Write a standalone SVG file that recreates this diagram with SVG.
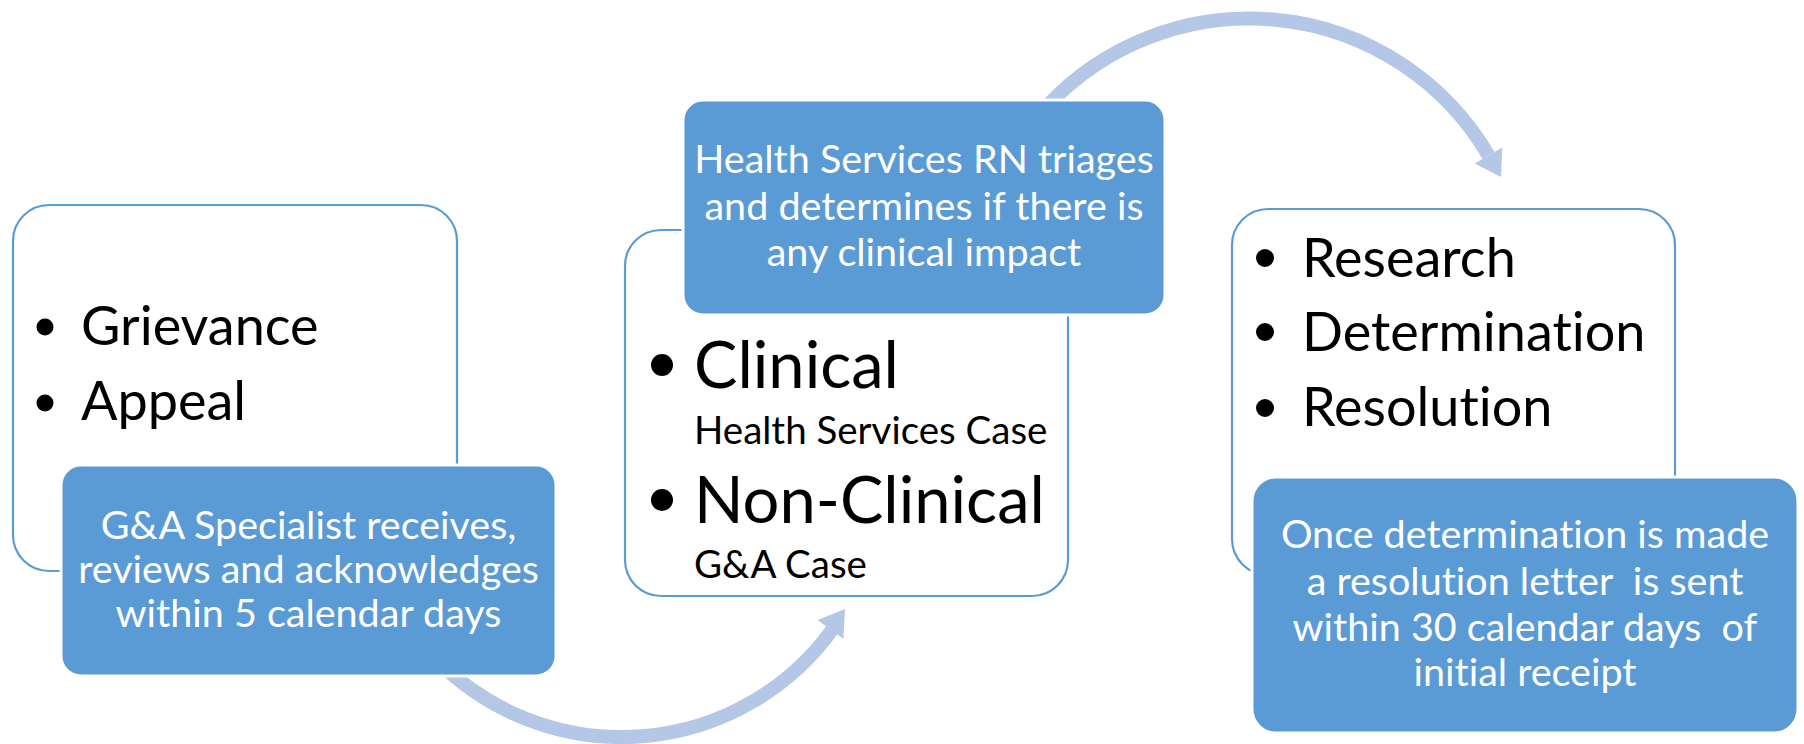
<svg xmlns="http://www.w3.org/2000/svg" width="1804" height="744" viewBox="0 0 1804 744">
  <style>
    .frame { fill: #FFFFFF; stroke: #5B9BD5; stroke-width: 2.2; }
    .card { fill: #5B9BD5; stroke: #FFFFFF; stroke-width: 3; }
    .flow { fill: none; stroke: #B4C7E7; stroke-width: 14; }
    .head { fill: #B4C7E7; }
    .bullet { fill: #000000; }
    text { font-variant-ligatures: none; font-feature-settings: "liga" 0, "clig" 0; }
    .item { font-family: Lato, "Liberation Sans", sans-serif; fill: #000000; }
    .note { font-family: Lato, "Liberation Sans", sans-serif; fill: #FFFFFF; text-anchor: middle; white-space: pre; font-size: 39.5px; }
  </style>

  <rect width="1804" height="744" fill="#FFFFFF"/>

  <!-- curved connectors between the stages -->
  <g id="connectors">
    <path class="flow" d="M 437.6 660.8 A 260.2 260.2 0 0 0 832 630"/>
    <polygon class="head" points="845,609 817.6,620.1 843.4,638.9"/>
    <path class="flow" d="M 1037 117.5 A 277.2 277.2 0 0 1 1488.5 155.5"/>
    <polygon class="head" points="1501,177 1474.7,163.6 1502.3,147.4"/>
  </g>

  <!-- stage 1: intake -->
  <g id="stage-intake">
    <rect class="frame" x="13" y="205" width="444" height="366" rx="36" ry="36"/>
    <circle class="bullet" cx="45" cy="327" r="8.5"/>
    <circle class="bullet" cx="45" cy="403" r="8.5"/>
    <text class="item" x="81" y="345" font-size="54">Grievance</text>
    <text class="item" x="81" y="420" font-size="54">Appeal</text>
  </g>
  <g id="stage-intake-note">
    <rect class="card" x="61" y="465" width="495" height="211" rx="20" ry="20"/>
    <text class="note" x="308.5" y="539">G&amp;A Specialist receives,</text>
    <text class="note" x="308.5" y="583">reviews and acknowledges</text>
    <text class="note" x="308.5" y="627">within 5 calendar days</text>
  </g>

  <!-- stage 2: triage -->
  <g id="stage-triage">
    <rect class="frame" x="625" y="230" width="443" height="366" rx="36" ry="36"/>
    <circle class="bullet" cx="662" cy="365" r="11"/>
    <circle class="bullet" cx="662" cy="500" r="11"/>
    <text class="item" x="694" y="388" font-size="65">Clinical</text>
    <text class="item" x="694" y="444" font-size="38.5">Health Services Case</text>
    <text class="item" x="694" y="523" font-size="65">Non-Clinical</text>
    <text class="item" x="694" y="578" font-size="38.5">G&amp;A Case</text>
  </g>
  <g id="stage-triage-note">
    <rect class="card" x="683" y="100" width="482" height="215" rx="20" ry="20"/>
    <text class="note" x="924" y="173">Health Services RN triages</text>
    <text class="note" x="924" y="220">and determines if there is</text>
    <text class="note" x="924" y="266">any clinical impact</text>
  </g>

  <!-- stage 3: resolution -->
  <g id="stage-resolution">
    <rect class="frame" x="1232" y="209" width="443" height="366" rx="36" ry="36"/>
    <circle class="bullet" cx="1265" cy="258" r="9"/>
    <circle class="bullet" cx="1265" cy="332" r="9"/>
    <circle class="bullet" cx="1265" cy="408" r="9"/>
    <text class="item" x="1302" y="277" font-size="54">Research</text>
    <text class="item" x="1302" y="351" font-size="54">Determination</text>
    <text class="item" x="1302" y="426" font-size="54">Resolution</text>
  </g>
  <g id="stage-resolution-note">
    <rect class="card" x="1252" y="477" width="546" height="256" rx="24" ry="24"/>
    <text class="note" x="1525" y="548" xml:space="preserve">Once determination is made</text>
    <text class="note" x="1525" y="595" xml:space="preserve">a resolution letter  is sent</text>
    <text class="note" x="1525" y="641" xml:space="preserve">within 30 calendar days  of</text>
    <text class="note" x="1525" y="686" xml:space="preserve">initial receipt</text>
  </g>
</svg>
